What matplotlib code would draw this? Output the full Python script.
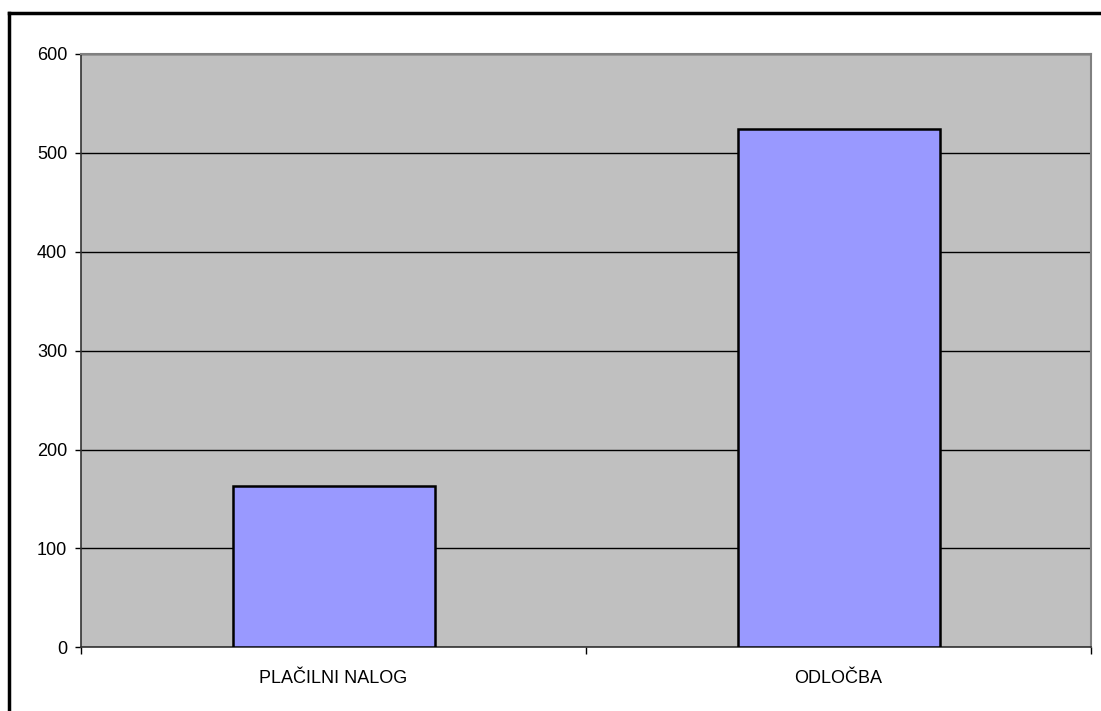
import matplotlib
matplotlib.use("Agg")
import matplotlib.pyplot as plt
from matplotlib.lines import Line2D

categories = ["PLAČILNI NALOG", "ODLOČBA"]
values = [163, 524]
y_ticks = [0, 100, 200, 300, 400, 500, 600]

plt.rcParams['font.family'] = ['Liberation Sans', 'DejaVu Sans']

fig = plt.figure(figsize=(11.01, 7.11), dpi=100)
ax = fig.add_axes([81/1101, 1 - 647.3/711, 1010/1101, (647.3-54)/711])
ax.set_facecolor('#C0C0C0')

x = list(range(len(categories)))
ax.bar(x, values, width=0.4, color='#9999FF', edgecolor='black', linewidth=1.8, zorder=3)

ax.set_xlim(-0.5, len(categories) - 0.5)
ax.set_ylim(0, 600)
ax.set_yticks(y_ticks)
ax.set_yticklabels([str(v) for v in y_ticks], fontsize=13)
ax.yaxis.grid(True, color='black', linewidth=1.0, zorder=1)
ax.set_axisbelow(True)

# category boundaries as major ticks, labels at centers via minor ticks
ax.set_xticks([i - 0.5 for i in range(len(categories) + 1)])
ax.set_xticklabels([])
ax.set_xticks(x, minor=True)
ax.set_xticklabels(categories, minor=True, fontsize=13)
ax.tick_params(axis='x', which='major', direction='out', length=5, width=1, color='black')
ax.tick_params(axis='x', which='minor', length=0, pad=16)
ax.tick_params(axis='y', direction='out', length=4, width=1, color='black', pad=6)

for s in ['top', 'right']:
    ax.spines[s].set_color('#808080')
    ax.spines[s].set_linewidth(1.5)
ax.spines['left'].set_color('#333333')
ax.spines['bottom'].set_color('#333333')
ax.spines['left'].set_linewidth(1.2)
ax.spines['bottom'].set_linewidth(1.2)

# outer chart border (top and left visible)
fig.add_artist(Line2D([9/1101, 1.0], [1 - 13/711, 1 - 13/711], color='black', linewidth=2.5, transform=fig.transFigure))
fig.add_artist(Line2D([9/1101, 9/1101], [0.0, 1 - 13/711], color='black', linewidth=2.5, transform=fig.transFigure))

fig.savefig("out.png", dpi=100)
